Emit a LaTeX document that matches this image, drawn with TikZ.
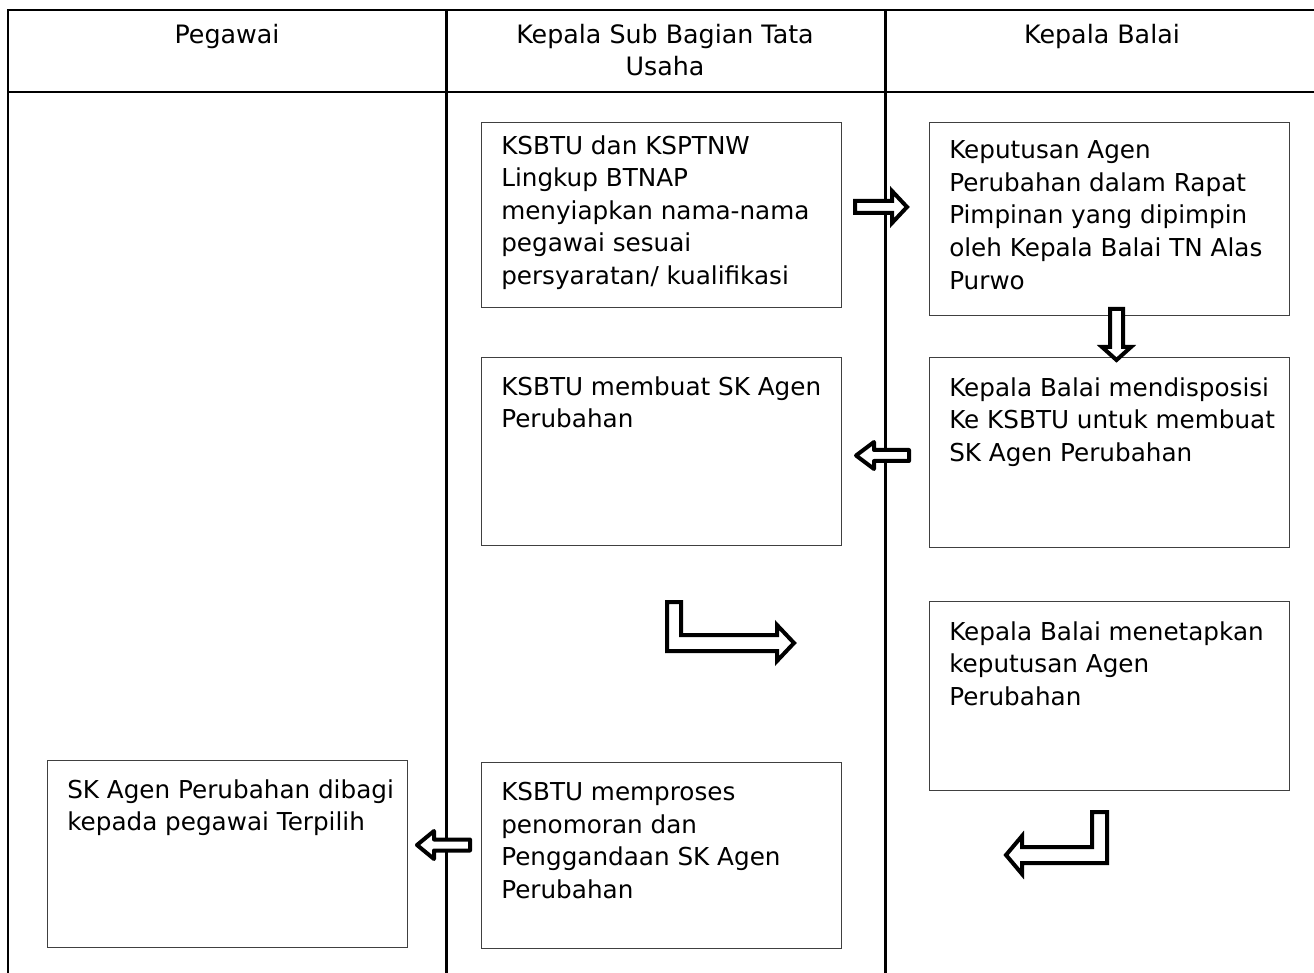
\documentclass[tikz,border=0pt]{standalone}
\usepackage{fontspec}
\setmainfont{DejaVu Sans}
\begin{document}
\begin{tikzpicture}[x=0.75pt,y=-0.75pt,
  tline/.style={line width=2.2pt,black},
  box/.style={draw=black!75,line width=1.1pt,rectangle,inner sep=0pt,anchor=north west,minimum width=270pt},
  txt/.style={inner sep=0pt,anchor=north west,align=left,font=\fontsize{18.5pt}{24.4pt}\selectfont},
  head/.style={inner sep=0pt,anchor=base,align=center,font=\fontsize{19pt}{24.4pt}\selectfont},
  blockarrow/.style={draw=black,fill=white,line width=3pt,line join=miter},
  roundarrow/.style={draw=black,fill=white,line width=3pt,line join=round}]
\useasboundingbox (0,0) rectangle (1314,973);
% table
\draw[tline] (8,973) -- (8,10) -- (1320,10);
\draw[tline] (8,92) -- (1320,92);
\draw[tline] (446.5,10) -- (446.5,973);
\draw[tline] (885.5,10) -- (885.5,973);
% headers
\node[head] (h1) at (227,44) {Pegawai};
\node[head] (h2) at (665,76) {Kepala Sub Bagian Tata\\Usaha};
\node[head] (h3) at (1102,44) {Kepala Balai};
% boxes
\node[box,minimum height=138.75pt] (b1) at (481,122) {};
\node[box,minimum height=144.75pt] (b2) at (929,122) {};
\node[box,minimum height=141pt] (b3) at (481,357) {};
\node[box,minimum height=142.5pt] (b4) at (929,357) {};
\node[box,minimum height=141.75pt] (b5) at (929,601) {};
\node[box,minimum height=139.5pt] (b6) at (481,762) {};
\node[box,minimum height=140.25pt] (b7) at (47,760) {};
% texts
\node[txt] (t1) at ([xshift=15pt,yshift=-10pt]b1.north west) {KSBTU dan KSPTNW\\Lingkup BTNAP\\menyiapkan nama-nama\\pegawai sesuai\\persyaratan/ kualifikasi};
\node[txt] (t2) at ([xshift=15pt,yshift=-14pt]b2.north west) {Keputusan Agen\\Perubahan dalam Rapat\\Pimpinan yang dipimpin\\oleh Kepala Balai TN Alas\\Purwo};
\node[txt] (t3) at ([xshift=15pt,yshift=-14.5pt]b3.north west) {KSBTU membuat SK Agen\\Perubahan};
\node[txt] (t4) at ([xshift=15pt,yshift=-15.25pt]b4.north west) {Kepala Balai mendisposisi\\Ke KSBTU untuk membuat\\SK Agen Perubahan};
\node[txt] (t5) at ([xshift=15pt,yshift=-15.25pt]b5.north west) {Kepala Balai menetapkan\\keputusan Agen\\Perubahan};
\node[txt] (t6) at ([xshift=15pt,yshift=-15pt]b6.north west) {KSBTU memproses\\penomoran dan\\Penggandaan SK Agen\\Perubahan};
\node[txt] (t7) at ([xshift=15pt,yshift=-14.5pt]b7.north west) {SK Agen Perubahan dibagi\\kepada pegawai Terpilih};
% block arrows
\draw[blockarrow] (855,201) -- (892,201) -- (892,191) -- (907,207) -- (892,223) -- (892,213) -- (855,213) -- cycle;
\draw[blockarrow] (1110,309) -- (1123,309) -- (1123,347) -- (1131,347) -- (1116.5,360) -- (1102,347) -- (1110,347) -- cycle;
\draw[roundarrow] (909,450) -- (874,450) -- (874,442) -- (856,455.5) -- (874,469) -- (874,461) -- (909,461) -- cycle;
\draw[roundarrow] (470,839.5) -- (434,839.5) -- (434,831) -- (417,845) -- (434,859) -- (434,850.5) -- (470,850.5) -- cycle;
\draw[blockarrow] (667,602) -- (681,602) -- (681,635) -- (777,635) -- (777,625) -- (794,643) -- (777,661) -- (777,651) -- (667,651) -- cycle;
\draw[blockarrow] (1107,812) -- (1092,812) -- (1092,847) -- (1022,847) -- (1022,836) -- (1006,855) -- (1022,874) -- (1022,863) -- (1107,863) -- cycle;
\end{tikzpicture}
\end{document}
